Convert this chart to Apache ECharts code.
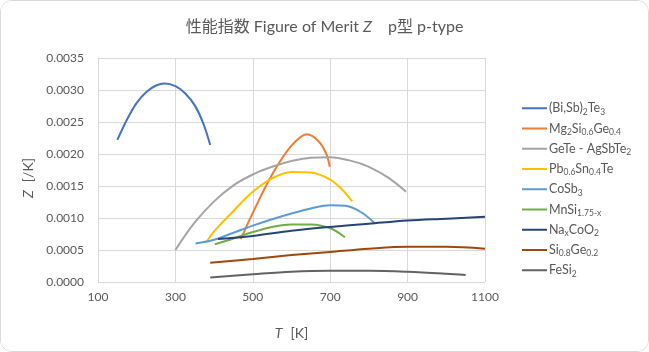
<!DOCTYPE html>
<html>
<head>
<meta charset="utf-8">
<script src="https://cdn.jsdelivr.net/npm/echarts@6/dist/echarts.min.js"></script>
<style>
  html, body { margin: 0; padding: 0; background: #fff; }
  #chart {
    width: 649px;
    height: 352px;
    box-sizing: border-box;
    border: 1px solid #d9d9d9;
    border-radius: 12px;
    overflow: hidden;
  }
</style>
</head>
<body>
<div id="chart"></div>
<script>
// 各材料の Z (1/K) ― [T(K), Z]
const biSbTe = [[150, 0.00222], [175, 0.00254], [200, 0.0028], [225, 0.00297], [250, 0.00307], [272, 0.0031],
  [300, 0.00306], [325, 0.00295], [350, 0.00276], [372, 0.00248], [390, 0.00214]]
const mgSiGe = [[469, 0.00067], [500, 0.00108], [550, 0.00168], [600, 0.00213], [640, 0.00231],
  [670, 0.0022], [690, 0.002], [699, 0.0018]]
const geTeAgSbTe = [[300, 0.0005], [350, 0.00093], [400, 0.00126], [450, 0.00151], [500, 0.00168], [550, 0.0018],
  [600, 0.00189], [650, 0.00194], [700, 0.00195], [750, 0.0019], [800, 0.0018], [850, 0.00163], [896, 0.00141]]
const pbSnTe = [[382, 0.00064], [400, 0.00079], [450, 0.00111], [500, 0.00141], [550, 0.00162], [600, 0.00172],
  [650, 0.00171], [700, 0.0016], [730, 0.00145], [757, 0.00126]]
const coSb = [[352, 0.0006], [400, 0.00066], [450, 0.00077], [500, 0.00088], [550, 0.00098], [600, 0.00107],
  [650, 0.00115], [700, 0.0012], [740, 0.00119], [780, 0.00109], [815, 0.00092]]
const mnSi = [[402, 0.00059], [450, 0.00068], [500, 0.00078], [550, 0.00086], [600, 0.0009], [650, 0.0009],
  [700, 0.00084], [738, 0.0007]]
const naCoO = [[410, 0.00067], [500, 0.00072], [600, 0.0008], [700, 0.00086], [800, 0.00091], [900, 0.00096],
  [1000, 0.00099], [1100, 0.00102]]
const siGe = [[390, 0.0003], [500, 0.00036], [600, 0.00042], [700, 0.00047], [800, 0.00052], [900, 0.00055],
  [1000, 0.00055], [1100, 0.00052]]
const feSi = [[390, 0.00007], [500, 0.00012], [600, 0.00016], [700, 0.000175], [800, 0.000175], [900, 0.00016],
  [1000, 0.00013], [1050, 0.00011]]

const seriesNames = ['(Bi,Sb)2Te3', 'Mg2Si0.6Ge0.4', 'GeTe - AgSbTe2', 'Pb0.6Sn0.4Te', 'CoSb3',
  'MnSi1.75-x', 'NaxCoO2', 'Si0.8Ge0.2', 'FeSi2']
const seriesData = [biSbTe, mgSiGe, geTeAgSbTe, pbSnTe, coSb, mnSi, naCoO, siGe, feSi]
const colors = ['#4472C4', '#ED7D31', '#A5A5A5', '#FFC000', '#5B9BD5', '#70AD47', '#264478', '#9E480E', '#636363']

// 凡例の下付き文字
const legendRich = {
  '(Bi,Sb)2Te3': '{n|(Bi,Sb)}{s|2}{n|Te}{s|3}',
  'Mg2Si0.6Ge0.4': '{n|Mg}{s|2}{n|Si}{s|0.6}{n|Ge}{s|0.4}',
  'GeTe - AgSbTe2': '{n|GeTe - AgSbTe}{s|2}',
  'Pb0.6Sn0.4Te': '{n|Pb}{s|0.6}{n|Sn}{s|0.4}{n|Te}',
  'CoSb3': '{n|CoSb}{s|3}',
  'MnSi1.75-x': '{n|MnSi}{s|1.75-x}',
  'NaxCoO2': '{n|Na}{s|x}{n|CoO}{s|2}',
  'Si0.8Ge0.2': '{n|Si}{s|0.8}{n|Ge}{s|0.2}',
  'FeSi2': '{n|FeSi}{s|2}'
}

const FONT = 'Lato, "Noto Sans CJK JP", sans-serif'
const TEXT = '#595959'

const axisNameRich = {
  i: { fontSize: 14, color: TEXT, fontFamily: FONT, fontStyle: 'italic' },
  g: { width: 8 },
  n: { fontSize: 14, color: TEXT, fontFamily: FONT }
}

const chart = echarts.init(document.getElementById('chart'))
chart.setOption({
  backgroundColor: '#fff',
  textStyle: { fontFamily: FONT },
  title: {
    left: 'center',
    top: 13,
    text: '{a|性能指数 Figure of Merit }{i|Z}{a|　p型 p-type}',
    textStyle: {
      rich: {
        a: { fontSize: 16, color: TEXT, fontFamily: FONT, fontWeight: 'normal' },
        i: { fontSize: 16, color: TEXT, fontFamily: FONT, fontWeight: 'normal', fontStyle: 'italic' }
      }
    }
  },
  legend: {
    orient: 'vertical',
    left: 516,
    top: 96,
    itemWidth: 25,
    itemHeight: 2,
    itemGap: 6,
    icon: 'rect',
    data: seriesNames,
    formatter: name => legendRich[name],
    textStyle: {
      padding: [0, 0, 0, -3],
      rich: {
        n: { fontSize: 12.5, color: TEXT, fontFamily: FONT, lineHeight: 16 },
        s: { fontSize: 8.5, color: TEXT, fontFamily: FONT, lineHeight: 16, verticalAlign: 'bottom' }
      }
    }
  },
  grid: { left: 97, right: 163, top: 57, bottom: 69 },
  xAxis: {
    type: 'value',
    min: 100,
    max: 1100,
    interval: 200,
    name: '{i|T}{g|}{n|[K]}',
    nameLocation: 'middle',
    nameGap: 44,
    nameTextStyle: { rich: axisNameRich },
    axisLine: { show: false },
    axisTick: { show: false },
    axisLabel: { color: TEXT, fontSize: 12, margin: 9, formatter: v => String(v) },
    splitLine: { show: true, lineStyle: { color: '#d9d9d9', width: 1 } }
  },
  yAxis: {
    type: 'value',
    min: 0,
    max: 0.0035,
    interval: 0.0005,
    name: '{i|Z}{g|}{n|[/K]}',
    nameLocation: 'middle',
    nameGap: 58,
    nameTextStyle: { padding: [0, 16, 0, 0], rich: axisNameRich },
    axisLine: { show: true, lineStyle: { color: '#d9d9d9' } },
    axisTick: { show: false },
    axisLabel: { color: TEXT, fontSize: 12, margin: 14, formatter: v => v.toFixed(4) },
    splitLine: { show: true, lineStyle: { color: '#d9d9d9', width: 1 } }
  },
  series: seriesNames.map((name, i) => ({
    name,
    type: 'line',
    data: seriesData[i],
    smooth: 0.35,
    symbol: 'none',
    color: colors[i],
    lineStyle: { width: 2, color: colors[i] }
  }))
})
</script>
</body>
</html>
